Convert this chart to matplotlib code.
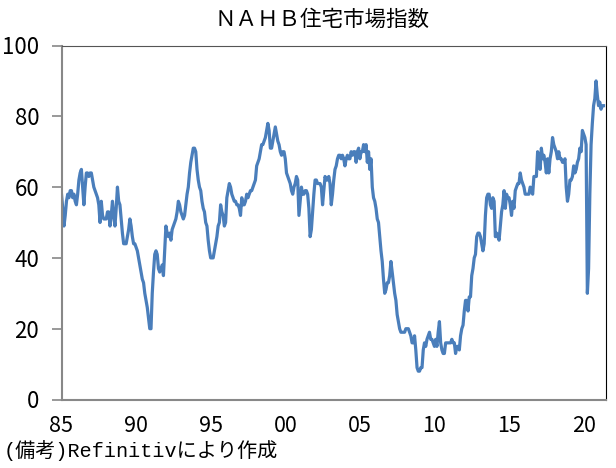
import numpy as np
import matplotlib
matplotlib.use("Agg")
import matplotlib.pyplot as plt

# NAHB housing market index, monthly, Jan 1985 - May 2021
start_year = 1985
hmi_1985_1989 = [
    58, 54, 49, 52, 56, 58, 57, 59, 59, 57, 58, 56,
    55, 58, 62, 64, 65, 60, 55, 60, 64, 64, 63, 64,
    64, 62, 60, 59, 58, 57, 55, 50, 56, 52, 51, 51,
    51, 53, 53, 49, 52, 56, 52, 49, 54, 60, 56, 55,
    51, 47, 44, 44, 44, 46, 48, 51, 49, 46, 44, 44,
]
hmi_1990s = [
    43, 42, 40, 38, 36, 34, 33, 30, 28, 26, 23, 20,
    20, 30, 36, 41, 42, 41, 37, 36, 37, 38, 35, 42,
    49, 47, 46, 47, 45, 48, 49, 50, 51, 53, 56, 55,
    53, 52, 51, 52, 55, 58, 60, 64, 67, 69, 71, 71,
    70, 65, 62, 60, 59, 56, 54, 53, 50, 49, 45, 42,
    40, 40, 40, 42, 44, 46, 49, 50, 55, 53, 52, 49,
    50, 57, 59, 61, 60, 58, 57, 56, 56, 55, 55, 54,
    52, 57, 55, 55, 56, 58, 57, 58, 59, 59, 60, 61,
    62, 66, 67, 68, 70, 72, 72, 73, 74, 76, 78, 76,
    71, 71, 73, 75, 77, 75, 73, 72, 70, 69, 70, 70,
]
hmi_2000s = [
    68, 64, 63, 62, 61, 59, 58, 60, 61, 63, 62, 52,
    56, 60, 58, 58, 59, 59, 58, 54, 46, 48, 53, 58,
    62, 62, 61, 61, 61, 60, 55, 59, 63, 62, 62, 63,
    61, 55, 58, 62, 65, 66, 68, 69, 69, 68, 69, 68,
    66, 68, 69, 68, 68, 70, 69, 70, 70, 67, 70, 71,
    68, 70, 70, 72, 70, 72, 67, 70, 65, 68, 60, 57,
    56, 54, 51, 50, 46, 42, 39, 34, 30, 31, 33, 33,
    35, 39, 36, 33, 30, 28, 24, 22, 20, 19, 19, 19,
    19, 20, 20, 20, 19, 18, 16, 16, 18, 14, 9, 8,
    8, 9, 9, 14, 16, 15, 17, 18, 19, 17, 17, 16,
]
hmi_2010s = [
    15, 17, 15, 19, 22, 16, 14, 13, 13, 16, 16, 16,
    16, 16, 17, 16, 16, 13, 15, 15, 14, 18, 20, 21,
    25, 28, 28, 25, 29, 29, 35, 37, 40, 41, 46, 47,
    47, 46, 44, 42, 44, 52, 57, 58, 58, 55, 54, 57,
    56, 46, 47, 46, 45, 49, 53, 55, 59, 54, 58, 57,
    57, 55, 52, 56, 54, 59, 60, 61, 61, 64, 62, 61,
    60, 58, 58, 58, 58, 60, 59, 58, 63, 63, 63, 70,
    67, 65, 71, 68, 69, 67, 64, 68, 64, 68, 70, 74,
    72, 71, 70, 68, 70, 68, 68, 67, 67, 68, 60, 56,
    58, 62, 62, 63, 66, 64, 65, 67, 68, 71, 70, 76,
]
hmi_2020s = [
    75, 74, 72, 30, 37, 58, 72, 78, 83, 85, 90, 86,
    83, 84, 82, 83, 83,
]

tick_years = [1985, 1990, 1995, 2000, 2005, 2010, 2015, 2020]
tick_labels = ["85", "90", "95", "00", "05", "10", "15", "20"]
y_ticks = [0, 20, 40, 60, 80, 100]

hmi = hmi_1985_1989 + hmi_1990s + hmi_2000s + hmi_2010s + hmi_2020s
t = start_year + np.arange(len(hmi)) / 12.0

num_font = ["Liberation Sans Narrow", "Noto Sans CJK JP", "DejaVu Sans"]
note_font = ["Liberation Mono", "Noto Sans CJK JP", "DejaVu Sans"]
jp_font = ["Noto Sans CJK JP", "DejaVu Sans"]

fig = plt.figure(figsize=(6.16, 4.68), dpi=100)
ax = fig.add_axes([61.5 / 616, 1 - 399.5 / 468, 544.5 / 616, 354 / 468])

ax.plot(t, hmi, color="#4a7ebb", lw=2.3, solid_joinstyle="round")

ax.set_xlim(1985, 2021.5)
ax.set_ylim(0, 100)
ax.set_yticks(y_ticks)
ax.set_xticks(tick_years)
ax.set_xticklabels(tick_labels)

for lab in ax.get_yticklabels():
    lab.set_family(num_font)
    lab.set_fontsize(16)
for lab in ax.get_xticklabels():
    lab.set_family(num_font)
    lab.set_fontsize(15.5)

ax.tick_params(axis="y", direction="out", length=7, width=1.2, color="#888888", pad=9)
ax.tick_params(axis="x", length=0, pad=11)

ax.spines["left"].set_color("#888888")
ax.spines["bottom"].set_color("#888888")
ax.spines["left"].set_linewidth(1.5)
ax.spines["bottom"].set_linewidth(1.5)
ax.spines["top"].set_color("#555555")
ax.spines["right"].set_color("black")

fig.text(322.5 / 616, 1 - 20 / 468, "ＮＡＨＢ住宅市場指数", ha="center", va="center",
         fontsize=15.5, family=jp_font)
fig.text(4 / 616, 1 - 451 / 468, "(備考)Refinitivにより作成", ha="left", va="center",
         fontsize=14.5, family=note_font)

fig.savefig("out.png", dpi=100)
